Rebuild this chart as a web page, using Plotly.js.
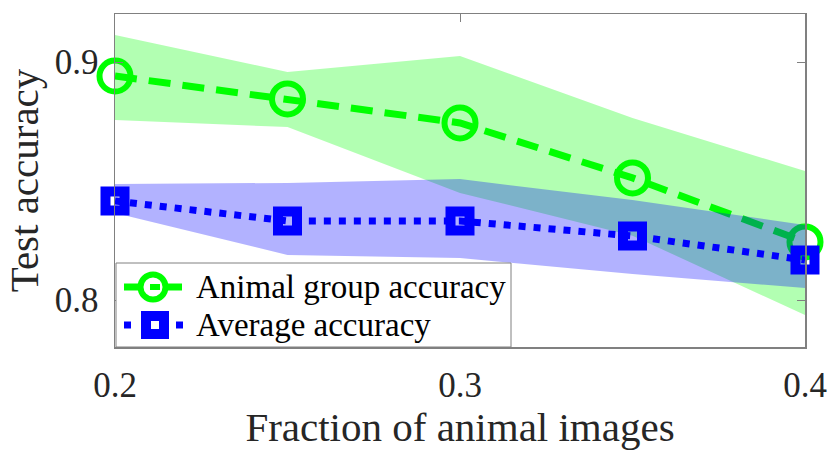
<!DOCTYPE html>
<html>
<head>
<meta charset="utf-8">
<script src="https://cdn.plot.ly/plotly-3.0.1.min.js"></script>
<style>
  body { margin: 0; background: #fff; }
  #chart { width: 831px; height: 457px; }
</style>
</head>
<body>
<div id="chart"></div>
<script>
// fraction of animal images in the training set
var frac = [0.2, 0.25, 0.3, 0.35, 0.4];

// animal group accuracy, mean and shaded band
var animalAcc   = [0.8941, 0.8845, 0.8744, 0.8513, 0.8244];
var animalUpper = [0.9113, 0.8958, 0.9025, 0.8765, 0.8542];
var animalLower = [0.8756, 0.8727, 0.8450, 0.8270, 0.7937];

// average accuracy, mean and shaded band
var avgAcc   = [0.8416, 0.8332, 0.8332, 0.8269, 0.8168];
var avgUpper = [0.8487, 0.8492, 0.8508, 0.8420, 0.8315];
var avgLower = [0.8366, 0.8189, 0.8176, 0.8109, 0.8050];

var seriesNames = ['Animal group accuracy', 'Average accuracy'];

var xTicks = [0.2, 0.3, 0.4];
var yTicks = [0.8, 0.9];

var serif = 'Liberation Serif, Times New Roman, serif';
var green = '#00ff00', blue = '#0000ff';

function band(upper, lower) {
    return {
        x: frac.concat(frac.slice().reverse()),
        y: upper.concat(lower.slice().reverse())
    };
}

var gBand = band(animalUpper, animalLower);
var bBand = band(avgUpper, avgLower);

var data = [
    {
        x: gBand.x, y: gBand.y,
        fill: 'toself', fillcolor: 'rgba(0,255,0,0.3)',
        mode: 'none', hoverinfo: 'skip'
    },
    {
        x: frac, y: animalAcc,
        name: seriesNames[0],
        mode: 'lines+markers',
        cliponaxis: false,
        line: {color: green, width: 7, dash: '22px,12px'},
        marker: {symbol: 'circle-open', size: 31, color: green, line: {color: green, width: 6}}
    },
    {
        x: bBand.x, y: bBand.y,
        fill: 'toself', fillcolor: 'rgba(0,0,255,0.3)',
        mode: 'none', hoverinfo: 'skip'
    },
    {
        x: frac, y: avgAcc,
        name: seriesNames[1],
        mode: 'lines+markers',
        cliponaxis: false,
        line: {color: blue, width: 7, dash: '7px,8px'},
        marker: {symbol: 'square-open', size: 19, color: blue, line: {color: blue, width: 10}}
    }
];

// legend box drawn by hand (plot area spans 115..805 px, 14..347 px)
var L = 115, W = 690, B = 347, H = 333;
function px(x) { return (x - L) / W; }
function py(y) { return (B - y) / H; }

var row1 = 287, row2 = 325;
var shapes = [
    {type: 'rect', xref: 'paper', yref: 'paper', layer: 'above',
     x0: px(116), x1: px(511), y0: py(347), y1: py(263),
     fillcolor: '#fff', line: {color: '#808080', width: 1}},
    // animal group sample
    {type: 'line', xref: 'paper', yref: 'paper', layer: 'above',
     x0: px(124), x1: px(140), y0: py(row1), y1: py(row1), line: {color: green, width: 7}},
    {type: 'line', xref: 'paper', yref: 'paper', layer: 'above',
     x0: px(166), x1: px(182), y0: py(row1), y1: py(row1), line: {color: green, width: 7}},
    {type: 'circle', xref: 'paper', yref: 'paper', layer: 'above',
     x0: px(140.5), x1: px(165.5), y0: py(row1 + 12.5), y1: py(row1 - 12.5),
     line: {color: green, width: 6}},
    {type: 'line', xref: 'paper', yref: 'paper', layer: 'above',
     x0: px(150), x1: px(160), y0: py(row1), y1: py(row1), line: {color: green, width: 6}},
    // average sample
    {type: 'line', xref: 'paper', yref: 'paper', layer: 'above',
     x0: px(124), x1: px(131), y0: py(row2), y1: py(row2), line: {color: blue, width: 7}},
    {type: 'line', xref: 'paper', yref: 'paper', layer: 'above',
     x0: px(176), x1: px(183), y0: py(row2), y1: py(row2), line: {color: blue, width: 7}},
    {type: 'rect', xref: 'paper', yref: 'paper', layer: 'above',
     x0: px(146), x1: px(164), y0: py(row2 + 9), y1: py(row2 - 9),
     line: {color: blue, width: 10}}
];

var annotations = [
    {text: seriesNames[0], xref: 'paper', yref: 'paper', x: px(194), y: py(row1),
     xanchor: 'left', yanchor: 'middle', showarrow: false,
     font: {family: serif, size: 33, color: '#000'}},
    {text: seriesNames[1], xref: 'paper', yref: 'paper', x: px(194), y: py(row2),
     xanchor: 'left', yanchor: 'middle', showarrow: false,
     font: {family: serif, size: 33, color: '#000'}}
];

var layout = {
    width: 831,
    height: 457,
    margin: {l: 115, r: 26, t: 14, b: 110},
    paper_bgcolor: '#fff',
    plot_bgcolor: '#fff',
    font: {family: serif, color: '#262626', size: 35},
    showlegend: false,
    shapes: shapes,
    annotations: annotations,
    xaxis: {
        range: [0.2, 0.4],
        tickvals: xTicks,
        tickformat: '.1f',
        ticks: 'inside', ticklen: 8, tickcolor: '#808080',
        showline: true, linecolor: '#808080', linewidth: 1.5, mirror: 'ticks',
        showgrid: false, zeroline: false,
        tickfont: {size: 35},
        ticklabelstandoff: 6,
        title: {text: 'Fraction of animal images', font: {size: 41}, standoff: 5}
    },
    yaxis: {
        range: [0.78025, 0.92017],
        tickvals: yTicks,
        tickformat: '.1f',
        ticks: 'inside', ticklen: 8, tickcolor: '#808080',
        showline: true, linecolor: '#808080', linewidth: 1.5, mirror: 'ticks',
        showgrid: false, zeroline: false,
        tickfont: {size: 35},
        ticklabelstandoff: 8,
        title: {text: 'Test accuracy', font: {size: 41}, standoff: 3}
    }
};

Plotly.newPlot('chart', data, layout, {displayModeBar: false, staticPlot: true});
</script>
</body>
</html>
